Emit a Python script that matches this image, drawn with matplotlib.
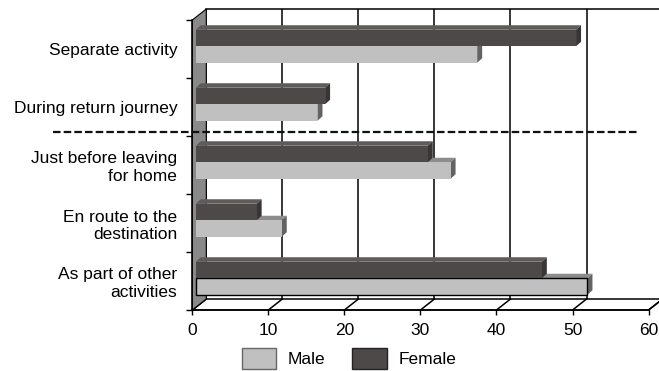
import numpy as np
import matplotlib
matplotlib.use("Agg")
import matplotlib.pyplot as plt
from matplotlib.patches import Polygon, Patch

plt.rcParams['font.family'] = ['Liberation Sans', 'DejaVu Sans']

# bottom to top
categories = ["As part of other\nactivities", "En route to the\ndestination",
              "Just before leaving\nfor home", "During return journey",
              "Separate activity"]
male = [51.5, 11.3, 33.5, 16, 37]
female = [45.5, 8, 30.5, 17, 50]
xticks = [0, 10, 20, 30, 40, 50, 60]

W, H = 659, 371
fig = plt.figure(figsize=(W / 100, H / 100), dpi=100)
ax = fig.add_axes([192.3 / W, 61 / H, 456.3 / W, 290 / H])
ax.set_xlim(0, 60)
ax.set_ylim(-0.5, 4.5)
ax.patch.set_visible(False)

# one pixel in data units
px_x = 60 / 456.3
px_y = 5 / 290

# depth of the chart box, the plane the bars sit in, and bar thickness
wall_dx, wall_dy = 14 * px_x, 11 * px_y
bar_dx, bar_dy = 0.25 * wall_dx, 0.25 * wall_dy
thk_dx, thk_dy = 5 * px_x, 4.5 * px_y
bar_h = 16.5 * px_y

# back wall gridlines and top edge
ax.vlines([v + wall_dx for v in xticks], -0.5 + wall_dy, 4.5 + wall_dy,
          color="black", lw=1.1, zorder=1, clip_on=False)
ax.plot([wall_dx, 70], [4.5 + wall_dy] * 2, color="black", lw=1.1,
        zorder=1, clip_on=False)

# floor
floor = Polygon([(0, -0.5), (60, -0.5), (60 + wall_dx, -0.5 + wall_dy),
                 (wall_dx, -0.5 + wall_dy)], closed=True, facecolor="white",
                edgecolor="black", lw=1.1, zorder=1, clip_on=False)
ax.add_patch(floor)
for v in xticks:
    ax.plot([v, v + wall_dx], [-0.5, -0.5 + wall_dy], color="black", lw=1.1,
            zorder=1, clip_on=False)

# left side wall
wall = Polygon([(0, -0.5), (0, 4.5), (wall_dx, 4.5 + wall_dy),
                (wall_dx, -0.5 + wall_dy)], closed=True, facecolor="#898989",
               edgecolor="black", lw=0.8, zorder=1.5, clip_on=False)
ax.add_patch(wall)


def faces(y, w, top_c, side_c, z):
    x0, x1 = bar_dx, bar_dx + w
    yb, yt = y - bar_h / 2, y + bar_h / 2
    top = Polygon([(x0, yt), (x1, yt), (x1 + thk_dx, yt + thk_dy),
                   (x0 + thk_dx, yt + thk_dy)], closed=True,
                  facecolor=top_c, edgecolor="none", zorder=z, clip_on=False)
    side = Polygon([(x1, yb), (x1, yt), (x1 + thk_dx, yt + thk_dy),
                    (x1 + thk_dx, yb + thk_dy)], closed=True,
                   facecolor=side_c, edgecolor="none", zorder=z, clip_on=False)
    ax.add_patch(top)
    ax.add_patch(side)


pos = np.arange(len(categories))
male_y = pos - bar_h / 2 + bar_dy
female_y = pos + bar_h / 2 + bar_dy

for i in range(len(categories)):
    faces(male_y[i], male[i], "#8c8c8c", "#636363", 3)
male_bars = ax.barh(male_y, male, height=bar_h, left=bar_dx, color="#c0c0c0",
                    zorder=3.1, label="Male")
male_bars[0].set_edgecolor("black")
male_bars[0].set_linewidth(1)

for i in range(len(categories)):
    faces(female_y[i], female[i], "#5f5b5b", "#393535", 3.2)
female_bars = ax.barh(female_y, female, height=bar_h, left=bar_dx,
                      color="#4d4949", zorder=3.3, label="Female")

# divider between the two groups of answers
ax.plot([-18.3, 58.6], [2.57, 2.57], color="#111111", lw=1.6,
        dashes=(3.4, 1.4), zorder=5, clip_on=False)

ax.set_xticks(xticks)
ax.set_yticks(pos, categories)
ax.set_yticks(np.arange(-0.5, 5, 1), minor=True)
ax.tick_params(axis="x", length=3.6, width=1, pad=6, labelsize=12.5)
ax.tick_params(axis="y", which="major", length=0, pad=10.8, labelsize=12.5)
ax.tick_params(axis="y", which="minor", length=4, width=1)
for s in ["top", "right"]:
    ax.spines[s].set_visible(False)
for s in ["left", "bottom"]:
    ax.spines[s].set_linewidth(1.1)

handles = [Patch(facecolor="#c0c0c0", edgecolor="#666666", lw=1),
           Patch(facecolor="#4d4949", edgecolor="#222222", lw=1)]
fig.legend(handles, ["Male", "Female"], loc="upper left",
           bbox_to_anchor=(241.7 / W, 1 - 348 / H), ncol=2, frameon=False,
           borderpad=0, borderaxespad=0, handlelength=2.0, handleheight=1.5,
           handletextpad=0.67, columnspacing=1.53, fontsize=12.5)

fig.savefig("out.png", dpi=100)
